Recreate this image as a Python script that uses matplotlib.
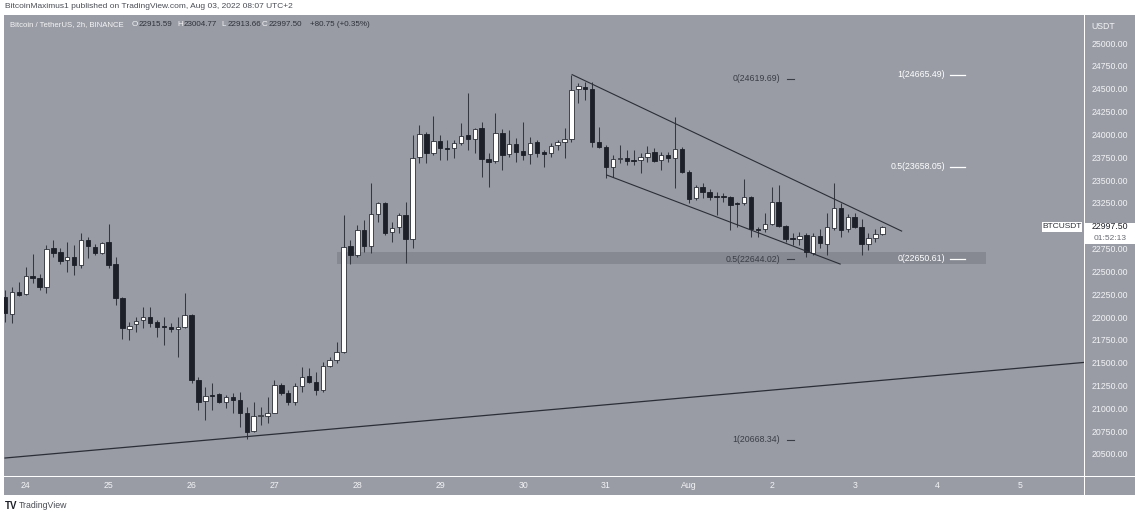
import numpy as np
import matplotlib.pyplot as plt

W, H = 1135, 515
plt.rcParams['font.family'] = ['Liberation Sans', 'DejaVu Sans']

# BTC/USDT 2h candles, Jul 23 18:00 -> Aug 3 08:00
opens = [22233, 22044, 22288, 22263, 22463, 22438, 22343, 22766, 22723, 22635,
         22668, 22580, 22854, 22781, 22712, 22832, 22591, 22219, 21879, 21931,
         21978, 22014, 21959, 21912, 21905, 21876, 21898, 22033, 21321, 21091,
         21157, 21168, 21083, 21135, 21102, 20963, 20763, 20927, 20927, 20963,
         21266, 21179, 21083, 21259, 21365, 21302, 21212, 21478, 21540, 21631,
         22788, 22690, 22964, 22788, 23139, 23259, 22938, 22996, 23128, 22865,
         23763, 24015, 23807, 23938, 23861, 23858, 23919, 23999, 23957, 24077,
         23738, 23722, 24026, 23796, 23905, 23832, 23796, 23924, 23821, 23803,
         23894, 23924, 23960, 24504, 24533, 24507, 23930, 23869, 23657, 23738,
         23749, 23730, 23730, 23760, 23814, 23730, 23785, 23749, 23850, 23602,
         23311, 23431, 23383, 23339, 23336, 23322, 23256, 23256, 23328, 22971,
         22971, 23029, 23273, 23007, 22873, 22862, 22909, 22715, 22898, 22810,
         22982, 23201, 22971, 23103, 23000, 22810, 22873, 22916]
highs = [22306, 22339, 22394, 22562, 22701, 22482, 22799, 22854, 22766, 22835,
         22799, 22931, 22890, 22810, 22832, 23029, 22671, 22230, 21959, 22014,
         22120, 22120, 21978, 22014, 21945, 22014, 22274, 22044, 21357, 21248,
         21288, 21182, 21157, 21179, 21193, 21029, 21083, 21029, 21138, 21321,
         21288, 21212, 21288, 21467, 21452, 21412, 21521, 21576, 21740, 23128,
         22854, 23018, 23073, 23478, 23273, 23273, 23054, 23150, 23273, 24004,
         24113, 24040, 24212, 24004, 23949, 23949, 24135, 24464, 24080, 24149,
         23807, 24245, 24069, 24058, 23971, 24149, 23985, 23949, 23840, 23916,
         23949, 24077, 24665, 24570, 24587, 24587, 24095, 23894, 23785, 23894,
         23840, 23840, 23803, 23883, 23858, 23821, 23821, 24204, 23869, 23620,
         23456, 23475, 23409, 23383, 23372, 23336, 23273, 23519, 23336, 23000,
         23146, 23438, 23456, 23018, 22927, 22945, 22927, 22927, 22971, 23153,
         23475, 23262, 23139, 23153, 23081, 22927, 22971, 23005]
lows = [21959, 21945, 22241, 22252, 22383, 22306, 22274, 22668, 22591, 22507,
        22471, 22547, 22657, 22690, 22701, 22547, 22142, 21770, 21759, 21850,
        21890, 21901, 21792, 21704, 21850, 21576, 21890, 21288, 20992, 20883,
        20992, 21069, 21014, 20960, 20810, 20670, 20755, 20828, 20850, 20960,
        21157, 21047, 21047, 21193, 21288, 21157, 21193, 21467, 21504, 21620,
        22591, 22671, 22726, 22715, 23054, 22909, 22835, 22931, 22602, 22766,
        23697, 23697, 23785, 23730, 23730, 23752, 23894, 23840, 23807, 23547,
        23434, 23697, 23620, 23766, 23711, 23730, 23686, 23763, 23657, 23766,
        23840, 23749, 23930, 24351, 24387, 23876, 23858, 23530, 23547, 23694,
        23675, 23675, 23584, 23711, 23711, 23620, 23711, 23420, 23584, 23256,
        23292, 23311, 23292, 23128, 23273, 22964, 23000, 23237, 22890, 22890,
        22945, 23018, 22993, 22835, 22799, 22799, 22671, 22690, 22763, 22690,
        22964, 22890, 22945, 22982, 22690, 22745, 22835, 22914]
closes = [22051, 22285, 22252, 22463, 22441, 22339, 22755, 22715, 22624, 22665,
          22580, 22854, 22788, 22712, 22821, 22580, 22222, 21890, 21912, 21970,
          22011, 21948, 21905, 21901, 21876, 21905, 22033, 21321, 21083, 21146,
          21146, 21083, 21132, 21102, 20960, 20755, 20927, 20938, 20960, 21266,
          21179, 21083, 21259, 21357, 21302, 21212, 21478, 21540, 21631, 22781,
          22690, 22964, 22788, 23139, 23259, 22931, 22989, 23128, 22865, 23752,
          24015, 23807, 23938, 23861, 23850, 23919, 23996, 23957, 24069, 23738,
          23711, 24026, 23785, 23905, 23821, 23785, 23919, 23810, 23796, 23883,
          23924, 23960, 24497, 24540, 24504, 23930, 23869, 23657, 23738, 23749,
          23722, 23722, 23760, 23803, 23722, 23785, 23749, 23850, 23602, 23300,
          23431, 23383, 23328, 23328, 23325, 23237, 23245, 23328, 22971, 22960,
          23029, 23273, 23007, 22862, 22862, 22898, 22726, 22898, 22818, 22993,
          23201, 22964, 23103, 23000, 22810, 22873, 22917, 22998]

day_labels = ["24", "25", "26", "27", "28", "29", "30", "31", "Aug", "2", "3", "4", "5"]
first_day_bar = 3   # bar index of Jul 24 00:00
bars_per_day = 12

price_ticks = np.arange(20500, 25001, 250)

# drawings
upper_line_x, upper_line_y = [82.1, 129.8], [24665, 22952]
lower_line_x, lower_line_y = [87.1, 120.9], [23566, 22591]
support_x, support_y = [0, 156.4], [20467, 21515]
band_x, band_y = [48.0, 142.0], [22591, 22719]

fib_dark = ["0(24619.69)", "0.5(22644.02)", "1(20668.34)"]
fib_dark_lvl = [24619.69, 22644.02, 20668.34]
fib_light = ["1(24665.49)", "0.5(23658.05)", "0(22650.61)"]
fib_light_lvl = [24665.49, 23658.05, 22650.61]

last_close = 22997.50

BG = '#999ca5'
DARK = '#1d2028'
XLIM = (-0.15, 156.2)
YLIM = (20270, 25318)


def fx(px):
    return px / W


def fy(py):
    return 1 - py / H


fig = plt.figure(figsize=(W / 100, H / 100), dpi=100, facecolor='white')
ax = fig.add_axes([fx(4), fy(476), fx(1080), 461 / H], facecolor=BG)
tax = fig.add_axes([fx(4), fy(495), fx(1080), 18 / H], facecolor=BG)
pax = fig.add_axes([fx(1085), fy(476), fx(50), 461 / H], facecolor=BG)
cax = fig.add_axes([fx(1085), fy(495), fx(50), 18 / H], facecolor=BG)

for a in (ax, tax, pax, cax):
    a.set_xticks([])
    a.set_yticks([])
    for s in a.spines.values():
        s.set_visible(False)

ax.set_xlim(*XLIM)
ax.set_ylim(*YLIM)

# candles
x = np.arange(len(opens))
o = np.array(opens, dtype=float)
c = np.array(closes, dtype=float)
up = c >= o
ax.vlines(x, lows, highs, color='#353840', lw=0.75, zorder=2)
bottom = np.minimum(o, c)
height = np.maximum(np.abs(c - o), 9)
ax.bar(x[up], height[up], bottom=bottom[up], width=0.64, color='white',
       edgecolor='#2a2d35', lw=0.6, zorder=3)
ax.bar(x[~up], height[~up], bottom=bottom[~up], width=0.64, color=DARK,
       edgecolor=DARK, lw=0.6, zorder=3)

# support band
ax.fill_between(band_x, band_y[0], band_y[1], color='#868992', lw=0, zorder=1)

# trend lines
ax.plot(upper_line_x, upper_line_y, color='#2b2e36', lw=0.8, zorder=4)
ax.plot(lower_line_x, lower_line_y, color='#2b2e36', lw=0.8, zorder=4)
ax.plot(support_x, support_y, color='#2b2e36', lw=0.9, zorder=4, clip_on=True)

# fib labels
for lab, lvl in zip(fib_dark, fib_dark_lvl):
    ax.text(112.2, lvl, lab, ha='right', va='center', fontsize=6.3, color='#3a3d45', zorder=5)
    ax.plot([113.2, 114.2], [lvl, lvl], color='#3a3d45', lw=0.8, zorder=5)
for lab, lvl in zip(fib_light, fib_light_lvl):
    ax.text(136.1, lvl, lab, ha='right', va='center', fontsize=6.3, color='white', zorder=5)
    ax.plot([136.8, 139.0], [lvl, lvl], color='white', lw=0.9, zorder=5)

# header inside the chart
fig.text(fx(10), fy(25), "Bitcoin / TetherUS, 2h, BINANCE", fontsize=5.6,
         color='#f4f4f6', va='center')
hdr = [("O", "22915.59", 132), ("H", "23004.77", 177), ("L", "22913.66", 221),
       ("C", "22997.50", 262)]
for k, v, px in hdr:
    fig.text(fx(px), fy(25), k, fontsize=5.8, color='#f4f4f6', va='center')
    fig.text(fx(px + 6.5), fy(25), v, fontsize=5.8, color='#2e3139', va='center')
fig.text(fx(310), fy(25), "+80.75 (+0.35%)", fontsize=5.8, color='#2e3139', va='center')

fig.text(fx(5), fy(7), "BitcoinMaximus1 published on TradingView.com, Aug 03, 2022 08:07 UTC+2",
         fontsize=6, color='#4a4d55', va='center')

# time axis
tax.set_xlim(*XLIM)
tax.set_ylim(0, 1)
for i, lab in enumerate(day_labels):
    tax.text(first_day_bar + i * bars_per_day, 0.5, lab, ha='center', va='center',
             fontsize=6.3, color='#f2f3f5')

# price axis
pax.set_ylim(*YLIM)
pax.set_xlim(0, 1)
for p in price_ticks:
    pax.text(0.5, p, f"{p:.2f}", ha='center', va='center', fontsize=6.3, color='#f2f3f5')
pax.text(0.12, 25195, "USDT", ha='left', va='center', fontsize=6.3, color='#f2f3f5')

# last price box on the axis and symbol tag
pax.fill_between([0, 1], 22810, 23035, color='white', lw=0, zorder=3)
pax.text(0.5, last_close, f"{last_close:.2f}", ha='center', va='center', fontsize=6.3,
         color='#1d2028', zorder=4)
pax.text(0.5, 22875, "01:52:13", ha='center', va='center', fontsize=6.0,
         color='#6a6d75', zorder=4)
fig.patches.append(plt.Rectangle((fx(1042), fy(232)), fx(40), 10 / H, transform=fig.transFigure,
                                 facecolor='white', edgecolor='none'))
fig.text(fx(1062), fy(227), "BTCUSDT", ha='center', va='center', fontsize=6,
         color='#2e3139')

# footer
fig.text(fx(5), fy(506), "TV", fontsize=7, fontweight='bold', color='#1d2028', va='center')
fig.text(fx(19), fy(506), "TradingView", fontsize=6.3, color='#4a4d55', va='center')

fig.savefig("out.png", dpi=100, facecolor='white')
